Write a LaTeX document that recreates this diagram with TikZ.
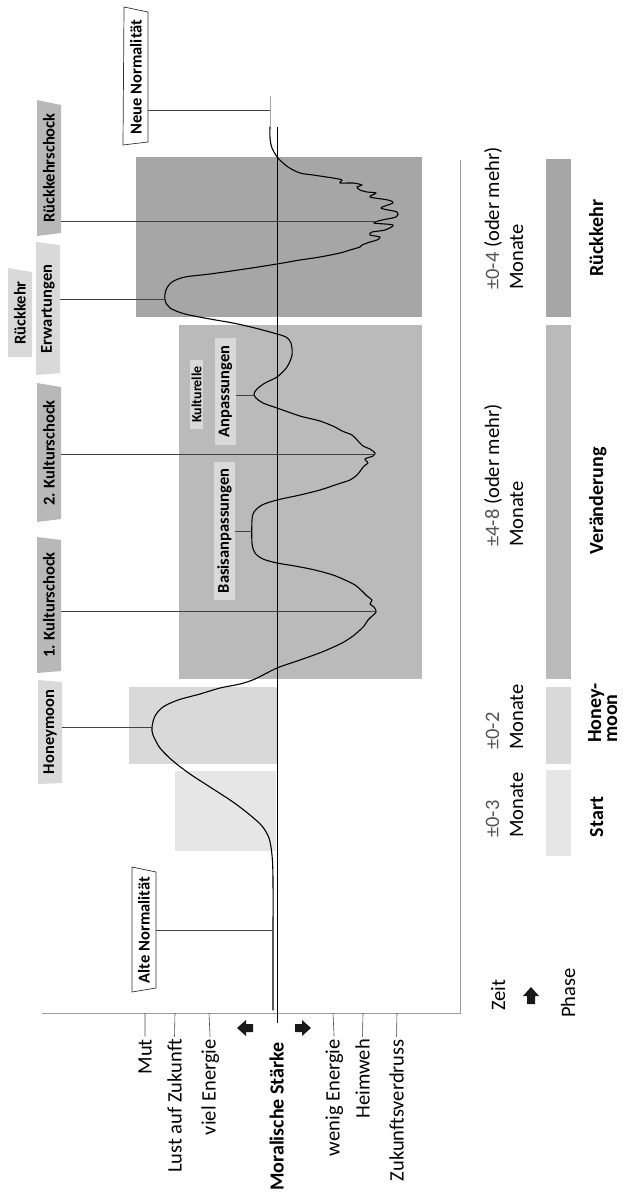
\documentclass[tikz,border=0pt]{standalone}
\usepackage{fontspec}
\setmainfont{Carlito}
\definecolor{cStart}{HTML}{E6E6E6}
\definecolor{cHoney}{HTML}{D9D9D9}
\definecolor{cVer}{HTML}{BABABA}
\definecolor{cRk}{HTML}{A6A6A6}
\definecolor{cTabD}{HTML}{B8B8B8}
\definecolor{numgray}{HTML}{555555}
\definecolor{axgray}{HTML}{9A9A9A}
\begin{document}
\begin{tikzpicture}[x=1pt,y=-1pt,
  lbl/.style={rotate=90, inner sep=0pt, font=\fontsize{20.5}{24}\selectfont},
  tabtxt/.style={rotate=90, inner sep=0pt, font=\bfseries\fontsize{16.5}{19}\selectfont},
  phase/.style={rotate=90, inner sep=0pt, font=\bfseries\fontsize{20}{18}\selectfont},
  leader/.style={draw=black!75, line width=0.6pt},
  tickline/.style={draw=black!70, line width=0.6pt, shorten >=2.5pt},
  curve/.style={line width=1.1pt, line join=round, line cap=round},
  num/.style={text=numgray}]
\useasboundingbox (0,0) rectangle (623,1192);
% phase regions
\fill[cStart] (175,771) rectangle (276,851);
\fill[cHoney] (129,687) rectangle (277,764);
\fill[cVer] (179,325) rectangle (422,679);
\fill[cRk] (136,157) rectangle (422,317);
% phase bars
\fill[cRk] (546,159) rectangle (571,317);
\fill[cVer] (546,325) rectangle (571,679);
\fill[cHoney] (546,687) rectangle (571,764);
\fill[cStart] (546,770) rectangle (571,856);
% axes
\draw[axgray, line width=0.6pt] (42,1013) -- (460,1013) -- (460,160);
\draw[black, line width=0.8pt] (277,127) -- (277,1023);
% curve
\draw[curve] plot[smooth, tension=0.5] coordinates {
(273,1010) (273,950) (273,880) (272,855) (269,838) (262,826) (250,815) (233,802) (210,787) (190,774) (173,761) (160,748) (153,735) (152,727) (155,716) (163,707) (178,700) (200,694) (220,688) (240,684) (255,679) (277,668) (300,660) (322,652) (342,643) (353,636) (360,630) (364,626) (368,620) (371,617) (376,612) (374,607) (370,604) (372,600) (367,596) (362,591) (355,585) (345,580) (333,575) (315,570) (295,566) (277,563) (263,559) (255,553) (252,543) (252,520) (254,512) (262,505) (277,500) (300,495) (320,490) (338,484) (350,480) (357,475) (361,470) (364,466) (368,463) (365,459) (373,456) (375,453) (370,449) (363,446) (358,441) (352,435) (342,431) (335,427) (320,421) (300,416) (277,408) (263,403) (256,398) (254,394) (257,389) (265,383) (277,377) (287,367) (292,355) (291,343) (286,337) (277,334) (255,328) (233,323) (210,319) (185,314) (170,308) (165,300) (166,290) (172,282) (185,277) (210,274) (245,269) (277,264) (300,260) (320,257) (340,253) (350,250) (360,247) (362,245) (370,242) (377,240) (380,237) (370,235) (372,232) (385,230) (393,225) (374,223) (382,220) (396,217) (397,212) (381,208) (393,203) (388,200) (370,197) (376,193) (367,192) (360,190) (357,187) (362,185) (353,183) (340,183) (342,180) (333,178) (313,175) (300,173) (288,167) (278,158) (272,148) (270,138) (270,127)};
\draw[black!35, line width=0.8pt] (270,127) -- (270,96);
% curve anchor points
\coordinate (neueP) at (270,110);
\coordinate (rsP) at (377,221);
\coordinate (erwP) at (165,299);
\coordinate (k2P) at (375,454);
\coordinate (k1P) at (377,611);
\coordinate (hmP) at (152,727);
\coordinate (alteP) at (272,930);
\coordinate (basP) at (252,531);
\coordinate (anpP) at (254,395);
% tabs
\fill[cTabD] (37,100) -- (61,105) -- (61,233) -- (37,236) -- cycle;
\node[tabtxt, minimum height=24pt] (rs) at (49,168) {Rückkehrschock};
\fill[cHoney] (36,242) -- (60,245) -- (60,373) -- (36,375) -- cycle;
\node[tabtxt, minimum height=24pt] (erw) at (48,309) {Erwartungen};
\fill[cHoney] (8,268) -- (32,272) -- (32,357) -- (8,357) -- cycle;
\node[tabtxt, minimum height=24pt] (rk) at (20,313) {Rückkehr};
\fill[cTabD] (37,383) -- (61,387) -- (61,519) -- (37,522) -- cycle;
\node[tabtxt, minimum height=24pt] (k2) at (49,453) {2. Kulturschock};
\fill[cTabD] (37,537) -- (61,540) -- (61,671) -- (37,673) -- cycle;
\node[tabtxt, minimum height=24pt] (k1) at (49,605) {1. Kulturschock};
\fill[cHoney] (38,680) -- (62,682) -- (62,783) -- (38,784) -- cycle;
\node[tabtxt, minimum height=24pt] (hm) at (50,732) {Honeymoon};
\filldraw[fill=white, draw=black!80, line width=0.7pt] (124,7) -- (148,12) -- (148,142) -- (123,145) -- cycle;
\node[tabtxt, minimum height=24pt] (neue) at (136,77) {Neue Normalität};
\filldraw[fill=white, draw=black!80, line width=0.7pt] (132,867) -- (156,872) -- (156,988) -- (132,992) -- cycle;
\node[tabtxt, minimum height=24pt] (alte) at (144,930) {Alte Normalität};
% inner labels
\node[tabtxt, fill=cHoney, minimum height=21pt, minimum width=138pt] (bas) at (224.5,531) {Basisanpassungen};
\node[tabtxt, fill=cHoney, minimum height=21pt, minimum width=107pt] (anp) at (225.5,391.5) {Anpassungen};
\node[tabtxt, fill=cHoney, minimum height=13pt, minimum width=69pt, font=\bfseries\fontsize{14}{16}\selectfont] (kul) at (196.5,394.5) {Kulturelle};
% leaders
\draw[leader] (rs.south |- rsP) -- (rsP);
\draw[leader] (erw.south |- erwP) -- (erwP);
\draw[leader] (k2.south |- k2P) -- (k2P);
\draw[leader] (k1.south |- k1P) -- (k1P);
\draw[leader] (hm.south |- hmP) -- (hmP);
\draw[leader] (neue.south |- neueP) -- (neueP);
\draw[leader] (alte.south |- alteP) -- (alteP);
\draw[leader] (bas.south |- basP) -- (basP);
\draw[leader] (anp.south |- anpP) -- (anpP);
% y axis labels
\node[lbl, anchor=base east] (mut) at (151.5,1039) {Mut};
\node[lbl, anchor=base east] (lust) at (181.5,1039) {Lust auf Zukunft};
\node[lbl, anchor=base east] (viel) at (215.5,1039) {viel Energie};
\node[lbl, anchor=base east, font=\bfseries\fontsize{20}{24}\selectfont] (ms) at (283.5,1042) {Moralische Stärke};
\node[lbl, anchor=base east] (wenig) at (339.5,1039) {wenig Energie};
\node[lbl, anchor=base east] (heim) at (369.5,1039) {Heimweh};
\node[lbl, anchor=base east] (zuk) at (403.5,1039) {Zukunftsverdruss};
\draw[tickline] (145,1013) -- (mut.east |- 0,1039);
\draw[tickline] (175,1013) -- (lust.east |- 0,1039);
\draw[tickline] (209,1013) -- (viel.east |- 0,1039);
\draw[tickline] (333,1013) -- (wenig.east |- 0,1039);
\draw[tickline] (363,1013) -- (heim.east |- 0,1039);
\draw[tickline] (397,1013) -- (zuk.east |- 0,1039);
% arrows
\fill[black!90] (237,1028) -- (246,1020) -- (246,1024) -- (253,1024) -- (253,1032) -- (246,1032) -- (246,1036) -- cycle;
\fill[black!90] (311,1028) -- (302,1020) -- (302,1024) -- (295,1024) -- (295,1032) -- (302,1032) -- (302,1036) -- cycle;
\fill[black!90] (531,987) -- (539,996) -- (535,996) -- (535,1004) -- (527,1004) -- (527,996) -- (523,996) -- cycle;
% time labels
\node[lbl, anchor=base] (zeit) at (505,995) {Zeit};
\node[lbl, anchor=base] (phase) at (575,993) {Phase};
\node[lbl, anchor=base west] (t4a) at (499,290) {{\color{numgray}±0-4} (oder mehr)};
\node[lbl, anchor=base west] (t4b) at (523,290) {Monate};
\node[lbl, anchor=base west] (t8a) at (499,547) {{\color{numgray}±4-8} (oder mehr)};
\node[lbl, anchor=base west] (t8b) at (523,547) {Monate};
\node[lbl, anchor=base west] (t2a) at (499,750) {{\color{numgray}±0-2}};
\node[lbl, anchor=base west] (t2b) at (523,750) {Monate};
\node[lbl, anchor=base west] (t3a) at (499,838) {{\color{numgray}±0-3}};
\node[lbl, anchor=base west] (t3b) at (523,838) {Monate};
% phase labels
\node[phase, anchor=base] (prk) at (603,238) {Rückkehr};
\node[phase, anchor=base] (pver) at (603,501) {Veränderung};
\node[phase, anchor=base west] (phm1) at (601,743) {Honey-};
\node[phase, anchor=base west] (phm2) at (617,743) {moon};
\node[phase, anchor=base] (pst) at (603,817) {Start};
\end{tikzpicture}
\end{document}
